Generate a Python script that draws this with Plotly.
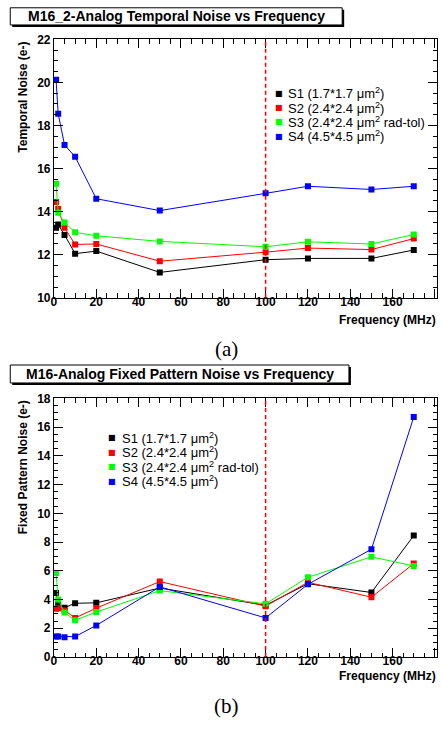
import plotly.graph_objects as go

# ---------------- data ----------------
freq_mhz = [1, 2, 5, 10, 20, 50, 100, 120, 150, 170]

series_labels = [
    "S1 (1.7*1.7 μm<sup>2</sup>)",
    "S2 (2.4*2.4 μm<sup>2</sup>)",
    "S3 (2.4*2.4 μm<sup>2</sup> rad-tol)",
    "S4 (4.5*4.5 μm<sup>2</sup>)",
]
series_colors = ["#000000", "#ff0000", "#00ff00", "#0000ff"]

# temporal noise (e-)
tn_s1 = [13.25, 13.40, 12.92, 12.05, 12.17, 11.18, 11.77, 11.83, 11.83, 12.22]
tn_s2 = [14.45, 14.12, 13.25, 12.48, 12.50, 11.70, 12.12, 12.31, 12.24, 12.75]
tn_s3 = [15.30, 13.95, 13.50, 13.04, 12.88, 12.62, 12.37, 12.60, 12.50, 12.94]
tn_s4 = [20.12, 18.55, 17.10, 16.55, 14.60, 14.05, 14.85, 15.18, 15.03, 15.18]

# fixed pattern noise (e-)
fpn_s1 = [4.45, 3.70, 3.43, 3.74, 3.77, 4.80, 3.60, 5.10, 4.49, 8.45]
fpn_s2 = [3.36, 3.40, 3.24, 2.72, 3.40, 5.25, 3.54, 5.20, 4.16, 6.50]
fpn_s3 = [5.85, 4.00, 3.09, 2.56, 3.13, 4.62, 3.70, 5.55, 6.97, 6.34]
fpn_s4 = [1.42, 1.42, 1.38, 1.42, 2.20, 4.88, 2.72, 5.06, 7.50, 16.70]

marker_freq = 100  # dashed reference frequency

panel_titles = [
    "M16_2-Analog Temporal Noise vs Frequency",
    "M16-Analog Fixed Pattern Noise vs Frequency",
]
y_titles = ["Temporal Noise (e-)", "Fixed Pattern Noise (e-)"]
x_title = "Frequency (MHz)"
captions = ["(a)", "(b)"]

# ---------------- layout helpers ----------------
W, H = 443, 731
def px(x):
    return x / W
def py(y):
    return 1 - y / H

SANS = "Liberation Sans, Arial, sans-serif"
SERIF = "Liberation Serif, Times New Roman, serif"

fig = go.Figure()

panels = [
    dict(xa="x", ya="y", data=[tn_s1, tn_s2, tn_s3, tn_s4]),
    dict(xa="x2", ya="y2", data=[fpn_s1, fpn_s2, fpn_s3, fpn_s4]),
]
for p in panels:
    for vals, col in zip(p["data"], series_colors):
        fig.add_trace(go.Scatter(
            x=freq_mhz, y=vals, mode="lines+markers",
            xaxis=p["xa"], yaxis=p["ya"],
            line=dict(color=col, width=1),
            marker=dict(symbol="square", size=6, color=col, line=dict(width=0)),
            showlegend=False, hoverinfo="skip",
        ))

x_dom = [px(51.3), px(437)]
ya_dom = [py(296.5), py(33)]
yb_dom = [py(662.7), py(399)]
x_range = [0, 181]

def xaxis_cfg(anchor, labels=True, dtick=20, ticklen=9, minor=True):
    cfg = dict(
        domain=x_dom, range=x_range, anchor=anchor,
        showgrid=False, zeroline=False,
        showline=True, linecolor="#000", linewidth=1, mirror="ticks",
        ticks="inside", ticklen=ticklen, tickwidth=1, tickcolor="#000",
        tick0=0, dtick=dtick, showticklabels=labels, ticklabelstandoff=-7,
        tickfont=dict(family=SANS, size=12, color="#000", weight="bold"),
    )
    if minor:
        cfg["minor"] = dict(ticks="inside", ticklen=4.5, tickwidth=1,
                            tickcolor="#000", dtick=5, tick0=0, showgrid=False)
    return cfg

def yaxis_cfg(anchor, dom, rng, labels=True, dtick=2, ticklen=9, minor=True):
    cfg = dict(
        domain=dom, range=rng, anchor=anchor,
        showgrid=False, zeroline=False,
        showline=True, linecolor="#000", linewidth=1, mirror="ticks",
        ticks="inside", ticklen=ticklen, tickwidth=1, tickcolor="#000",
        tick0=0, dtick=dtick, showticklabels=labels,
        tickfont=dict(family=SANS, size=12, color="#000", weight="bold"),
    )
    if minor:
        cfg["minor"] = dict(ticks="inside", ticklen=4.5, tickwidth=1,
                            tickcolor="#000", dtick=0.5, tick0=0, showgrid=False)
    return cfg

fig.update_layout(
    xaxis=xaxis_cfg("y"),
    yaxis=yaxis_cfg("x", ya_dom, [10, 22]),
    xaxis2=xaxis_cfg("y2"),
    yaxis2=yaxis_cfg("x2", yb_dom, [0, 18]),
)
# intermediate-length ticks (every 10 MHz / every 1 e-)
fig.update_layout(
    xaxis3={**xaxis_cfg("y", labels=False, dtick=10, ticklen=6.5, minor=False), "overlaying": "x"},
    yaxis3={**yaxis_cfg("x", ya_dom, [10, 22], labels=False, dtick=1, ticklen=6.5, minor=False), "overlaying": "y"},
    xaxis4={**xaxis_cfg("y2", labels=False, dtick=10, ticklen=6.5, minor=False), "overlaying": "x2"},
    yaxis4={**yaxis_cfg("x2", yb_dom, [0, 18], labels=False, dtick=1, ticklen=6.5, minor=False), "overlaying": "y2"},
)

shapes = []
annotations = []

# dashed vertical line at the reference frequency
for xa, ya in [("x", "y"), ("x2", "y2")]:
    shapes.append(dict(type="line", xref=xa, yref=f"{ya} domain",
                       x0=marker_freq, x1=marker_freq, y0=0, y1=1,
                       line=dict(color="#ff0000", width=1.5, dash="4px,3px"), layer="above"))

# title boxes with drop shadow
title_boxes = [(7.3, 0.8, 341.5, 18.3), (7.3, 365.0, 348.3, 383.3)]
for (x0, y0, x1, y1), title in zip(title_boxes, panel_titles):
    shapes.append(dict(type="rect", xref="paper", yref="paper",
                       x0=px(x0 + 2), x1=px(x1 + 2), y0=py(y1 + 2), y1=py(y0 + 2),
                       fillcolor="#000", line=dict(width=0)))
    shapes.append(dict(type="rect", xref="paper", yref="paper",
                       x0=px(x0), x1=px(x1), y0=py(y1), y1=py(y0),
                       fillcolor="#fff", line=dict(color="#000", width=1)))
    annotations.append(dict(xref="paper", yref="paper", x=px((x0 + x1) / 2), y=py((y0 + y1) / 2),
                            text=f"<b>{title}</b>", showarrow=False,
                            xanchor="center", yanchor="middle",
                            font=dict(family=SANS, size=14, color="#000")))

# axis titles
for ytop, ytxt in zip([33, 399], y_titles):
    annotations.append(dict(xref="paper", yref="paper", x=px(20), y=py(ytop),
                            text=f"<b>{ytxt}</b>", textangle=-90, showarrow=False,
                            xanchor="center", yanchor="top",
                            font=dict(family=SANS, size=12, color="#000")))
for yc in [319, 682.5]:
    annotations.append(dict(xref="paper", yref="paper", x=px(437.5), y=py(yc),
                            text=f"<b>{x_title}</b>", showarrow=False,
                            xanchor="right", yanchor="middle",
                            font=dict(family=SANS, size=12, color="#000")))

# captions
for yc, cap in zip([349, 713], captions):
    annotations.append(dict(xref="paper", yref="paper", x=px(225), y=py(yc),
                            text=cap, showarrow=False, xanchor="center", yanchor="middle",
                            font=dict(family=SERIF, size=21, color="#000")))

# legends
legend_pos = [(277.7, 285.0, [88.0, 102.5, 117.0, 131.8]),
              (110.0, 118.0, [439.0, 453.8, 468.6, 483.4])]
for mx, tx, rows in legend_pos:
    for yc, lab, col in zip(rows, series_labels, series_colors):
        annotations.append(dict(xref="paper", yref="paper", x=px(mx), y=py(yc),
                                text="■", showarrow=False, xanchor="center", yanchor="middle",
                                font=dict(family="DejaVu Sans", size=8, color=col)))
        annotations.append(dict(xref="paper", yref="paper", x=px(tx), y=py(yc),
                                text=lab, showarrow=False, xanchor="left", yanchor="middle",
                                font=dict(family=SANS, size=13, color="#000")))

fig.update_layout(
    width=W, height=H, autosize=False,
    margin=dict(l=0, r=0, t=0, b=0),
    paper_bgcolor="#fff", plot_bgcolor="#fff",
    shapes=shapes, annotations=annotations,
    showlegend=False,
)

fig.write_html("out.html")
